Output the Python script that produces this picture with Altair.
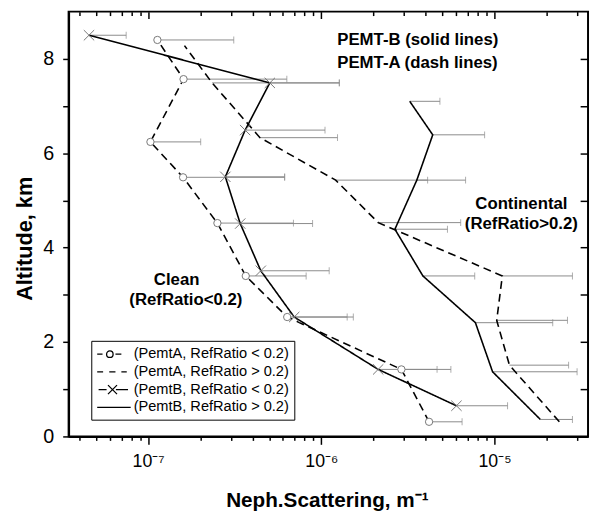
import altair as alt
import pandas as pd

FONT = "Liberation Sans"

series = [
    "(PemtA, RefRatio < 0.2)",
    "(PemtA, RefRatio > 0.2)",
    "(PemtB, RefRatio < 0.2)",
    "(PemtB, RefRatio > 0.2)",
]

# altitude (km), scattering (1/m), right end of the error bar (None = no bar)
a_lo_alt = [8.40, 7.57, 6.24, 5.49, 4.52, 3.40, 2.53, 1.42, 0.31]
a_lo_val = [1.13e-7, 1.60e-7, 1.03e-7, 1.59e-7, 2.51e-7, 3.66e-7, 6.35e-7, 2.90e-6, 4.19e-6]
a_lo_err = [3.12e-7, 6.32e-7, 2.01e-7, 6.14e-7, 6.90e-7, 8.17e-7, 1.41e-6, 5.60e-6, 6.50e-6]

a_hi_alt = [8.28, 7.49, 6.33, 5.43, 4.53, 3.40, 2.46, 1.51, 0.31]
a_hi_val = [1.62e-7, 2.34e-7, 4.42e-7, 1.21e-6, 2.13e-6, 1.11e-5, 1.03e-5, 1.22e-5, 2.37e-5]
a_hi_err = [None, 1.27e-6, 1.24e-6, 4.11e-6, 6.38e-6, 2.82e-5, 2.64e-5, 2.68e-5, None]

b_lo_alt = [8.50, 7.49, 6.49, 5.50, 4.51, 3.51, 2.53, 1.42, 0.65]
b_lo_val = [4.55e-8, 5.04e-7, 3.63e-7, 2.79e-7, 3.40e-7, 4.47e-7, 6.97e-7, 2.13e-6, 6.03e-6]
b_lo_err = [7.46e-8, 1.27e-6, 1.05e-6, 6.14e-7, 8.90e-7, 1.11e-6, 1.53e-6, 4.66e-6, 1.19e-5]

b_hi_alt = [7.10, 6.39, 5.43, 4.39, 3.40, 2.41, 1.37, 0.36]
b_hi_val = [3.24e-6, 4.40e-6, 3.56e-6, 2.66e-6, 3.86e-6, 7.76e-6, 9.75e-6, 1.84e-5]
b_hi_err = [4.84e-6, 8.77e-6, 6.81e-6, 5.35e-6, 7.69e-6, 2.17e-5, 3.00e-5, 2.82e-5]

# annotations (first two left-aligned, the rest centred)
ann_text = ["PEMT-B (solid lines)", "PEMT-A (dash lines)",
            "Continental", "(RefRatio>0.2)", "Clean", "(RefRatio<0.2)"]
ann_x = [1.236e-6, 1.236e-6, 1.43e-5, 1.43e-5, 1.46e-7, 1.65e-7]
ann_y = [8.30, 7.81, 4.81, 4.40, 3.21, 2.79]

x_major = [1e-7, 1e-6, 1e-5]
x_minor = [4e-8, 5e-8, 6e-8, 7e-8, 8e-8, 9e-8,
           2e-7, 3e-7, 4e-7, 5e-7, 6e-7, 7e-7, 8e-7, 9e-7,
           2e-6, 3e-6, 4e-6, 5e-6, 6e-6, 7e-6, 8e-6, 9e-6,
           2e-5, 3e-5]
y_ticks = [0, 1, 2, 3, 4, 5, 6, 7, 8]

# legend glyphs, drawn as custom symbol paths (unit = sqrt(size)/2 px)
legend_paths = [
    "M-1,0H-0.28M0.27,0A0.44,0.44 0 1,0 1.15,0A0.44,0.44 0 1,0 0.27,0M1.47,0H2.27",
    "M-1,0H-0.2M0.63,0H1.47M2.27,0H3.0",
    "M-0.81,0H0.27M0.46,-0.61L1.68,0.61M0.46,0.61L1.68,-0.61M1.53,0H3.17",
    "M-1,0H3.53",
]

frames = []
for name, a, v, e in [(series[0], a_lo_alt, a_lo_val, a_lo_err),
                      (series[1], a_hi_alt, a_hi_val, a_hi_err),
                      (series[2], b_lo_alt, b_lo_val, b_lo_err),
                      (series[3], b_hi_alt, b_hi_val, b_hi_err)]:
    frames.append(pd.DataFrame({"series": name, "alt": a, "val": v, "err": e}))
df = pd.concat(frames, ignore_index=True)
df["err"] = pd.to_numeric(df["err"])
err_df = df.dropna(subset=["err"])

ann = pd.DataFrame({"text": ann_text, "x": ann_x, "y": ann_y})

xs = alt.Scale(type="log", domain=[3.47e-8, 3.47e-5], nice=False)
ys = alt.Scale(domain=[0, 9], nice=False, zero=False)


def X(field, axis=None):
    return alt.X(field, type="quantitative", scale=xs, axis=axis)


def Y(field, axis=None):
    return alt.Y(field, type="quantitative", scale=ys, axis=axis)


label_expr = ("datum.value < 5e-7 ? '10\u207b\u2077' : "
              "datum.value < 5e-6 ? '10\u207b\u2076' : '10\u207b\u2075'")

# axis-only layers: bottom/left with labels, top/right ticks pointing inwards
ax_main = alt.Chart(df).mark_point(opacity=0).encode(
    x=X("val", alt.Axis(orient="bottom", values=x_major, labelExpr=label_expr,
                        tickSize=8, labelPadding=9, labelFontSize=18,
                        title="Neph.Scattering, m\u207b\u00b9", titleFontSize=21,
                        titleX=262, titleY=71, titleBaseline="alphabetic")),
    y=Y("alt", alt.Axis(orient="left", values=y_ticks,
                        labelExpr="datum.value % 2 == 0 ? datum.label : ''",
                        tickSize=6, labelPadding=9, labelFontSize=20,
                        title="Altitude, km", titleFontSize=22,
                        titleX=-38, titleY=230, titleBaseline="alphabetic")),
)
ax_mirror = alt.Chart(df).mark_point(opacity=0).encode(
    x=X("val", alt.Axis(orient="top", values=x_major, labels=False, tickSize=7,
                        offset=-7, domain=False, title=None)),
    y=Y("alt", alt.Axis(orient="right", values=y_ticks, labels=False, tickSize=8,
                        offset=-8, domain=False, title=None)),
)
ax_minor_b = alt.Chart(df).mark_point(opacity=0).encode(
    x=X("val", alt.Axis(orient="bottom", values=x_minor, labels=False, tickSize=4,
                        domain=False, title=None)),
    y=Y("alt"),
)
ax_minor_t = alt.Chart(df).mark_point(opacity=0).encode(
    x=X("val", alt.Axis(orient="top", values=x_minor, labels=False, tickSize=4,
                        offset=-4, domain=False, title=None)),
    y=Y("alt"),
)

bars = alt.Chart(err_df).mark_rule(color="#8a8a8a", strokeWidth=1).encode(
    x=X("val"), x2="err", y=Y("alt"))
caps = alt.Chart(err_df).mark_tick(orient="vertical", color="#8a8a8a",
                                   thickness=1, size=7).encode(x=X("err"), y=Y("alt"))

lines = []
for i, name in enumerate(series):
    dash = [8, 5] if i < 2 else [1, 0]
    lines.append(
        alt.Chart(df[df["series"] == name]).mark_line(
            color="black", strokeWidth=1.6, strokeDash=dash
        ).encode(x=X("val"), y=Y("alt"), order=alt.Order("alt:Q"))
    )

circles = alt.Chart(df[df["series"] == series[0]]).mark_point(
    shape="circle", size=55, filled=True, fill="white", stroke="#777777",
    strokeWidth=1, opacity=1).encode(x=X("val"), y=Y("alt"))
crosses = alt.Chart(df[df["series"] == series[2]]).mark_point(
    shape="M-1,-1L1,1M1,-1L-1,1", size=110, filled=False, color="#777777",
    strokeWidth=1, opacity=1).encode(x=X("val"), y=Y("alt"))

texts_left = alt.Chart(ann.iloc[:2]).mark_text(
    font=FONT, fontSize=17, fontWeight="bold", baseline="alphabetic", align="left"
).encode(x=X("x"), y=Y("y"), text="text")
texts_mid = alt.Chart(ann.iloc[2:]).mark_text(
    font=FONT, fontSize=17, fontWeight="bold", baseline="alphabetic", align="center"
).encode(x=X("x"), y=Y("y"), text="text")

legend_layer = alt.Chart(pd.DataFrame({"series": series})).mark_point(
    opacity=0, filled=False, color="black"
).encode(
    shape=alt.Shape("series:N",
                    scale=alt.Scale(domain=series, range=legend_paths),
                    legend=alt.Legend(
                        title=None, orient="none", legendX=23, legendY=334,
                        symbolSize=225, symbolStrokeWidth=1.3, symbolOpacity=1,
                        symbolStrokeColor="black", symbolFillColor="transparent",
                        labelFont=FONT, labelFontSize=14.8, labelOffset=21,
                        labelColor="black", rowPadding=2, padding=5,
                        strokeColor="black", fillColor="white")),
)

chart = alt.layer(
    ax_main, ax_mirror, ax_minor_b, ax_minor_t,
    bars, caps, *lines, circles, crosses, texts_left, texts_mid, legend_layer,
).properties(
    width=527, height=431,
    autosize=alt.AutoSizeParams(type="none"),
    padding={"left": 61.5, "top": 0, "right": 2, "bottom": 74},
).configure_view(
    stroke="black", strokeWidth=2
).configure_axis(
    labelFont=FONT, titleFont=FONT, titleFontWeight="bold", labelColor="black",
    titleColor="black", tickColor="black", tickWidth=1.5, domainColor="black",
    domainWidth=2, grid=False
)

chart.save("out.html", embed_options={"renderer": "svg", "actions": False})
